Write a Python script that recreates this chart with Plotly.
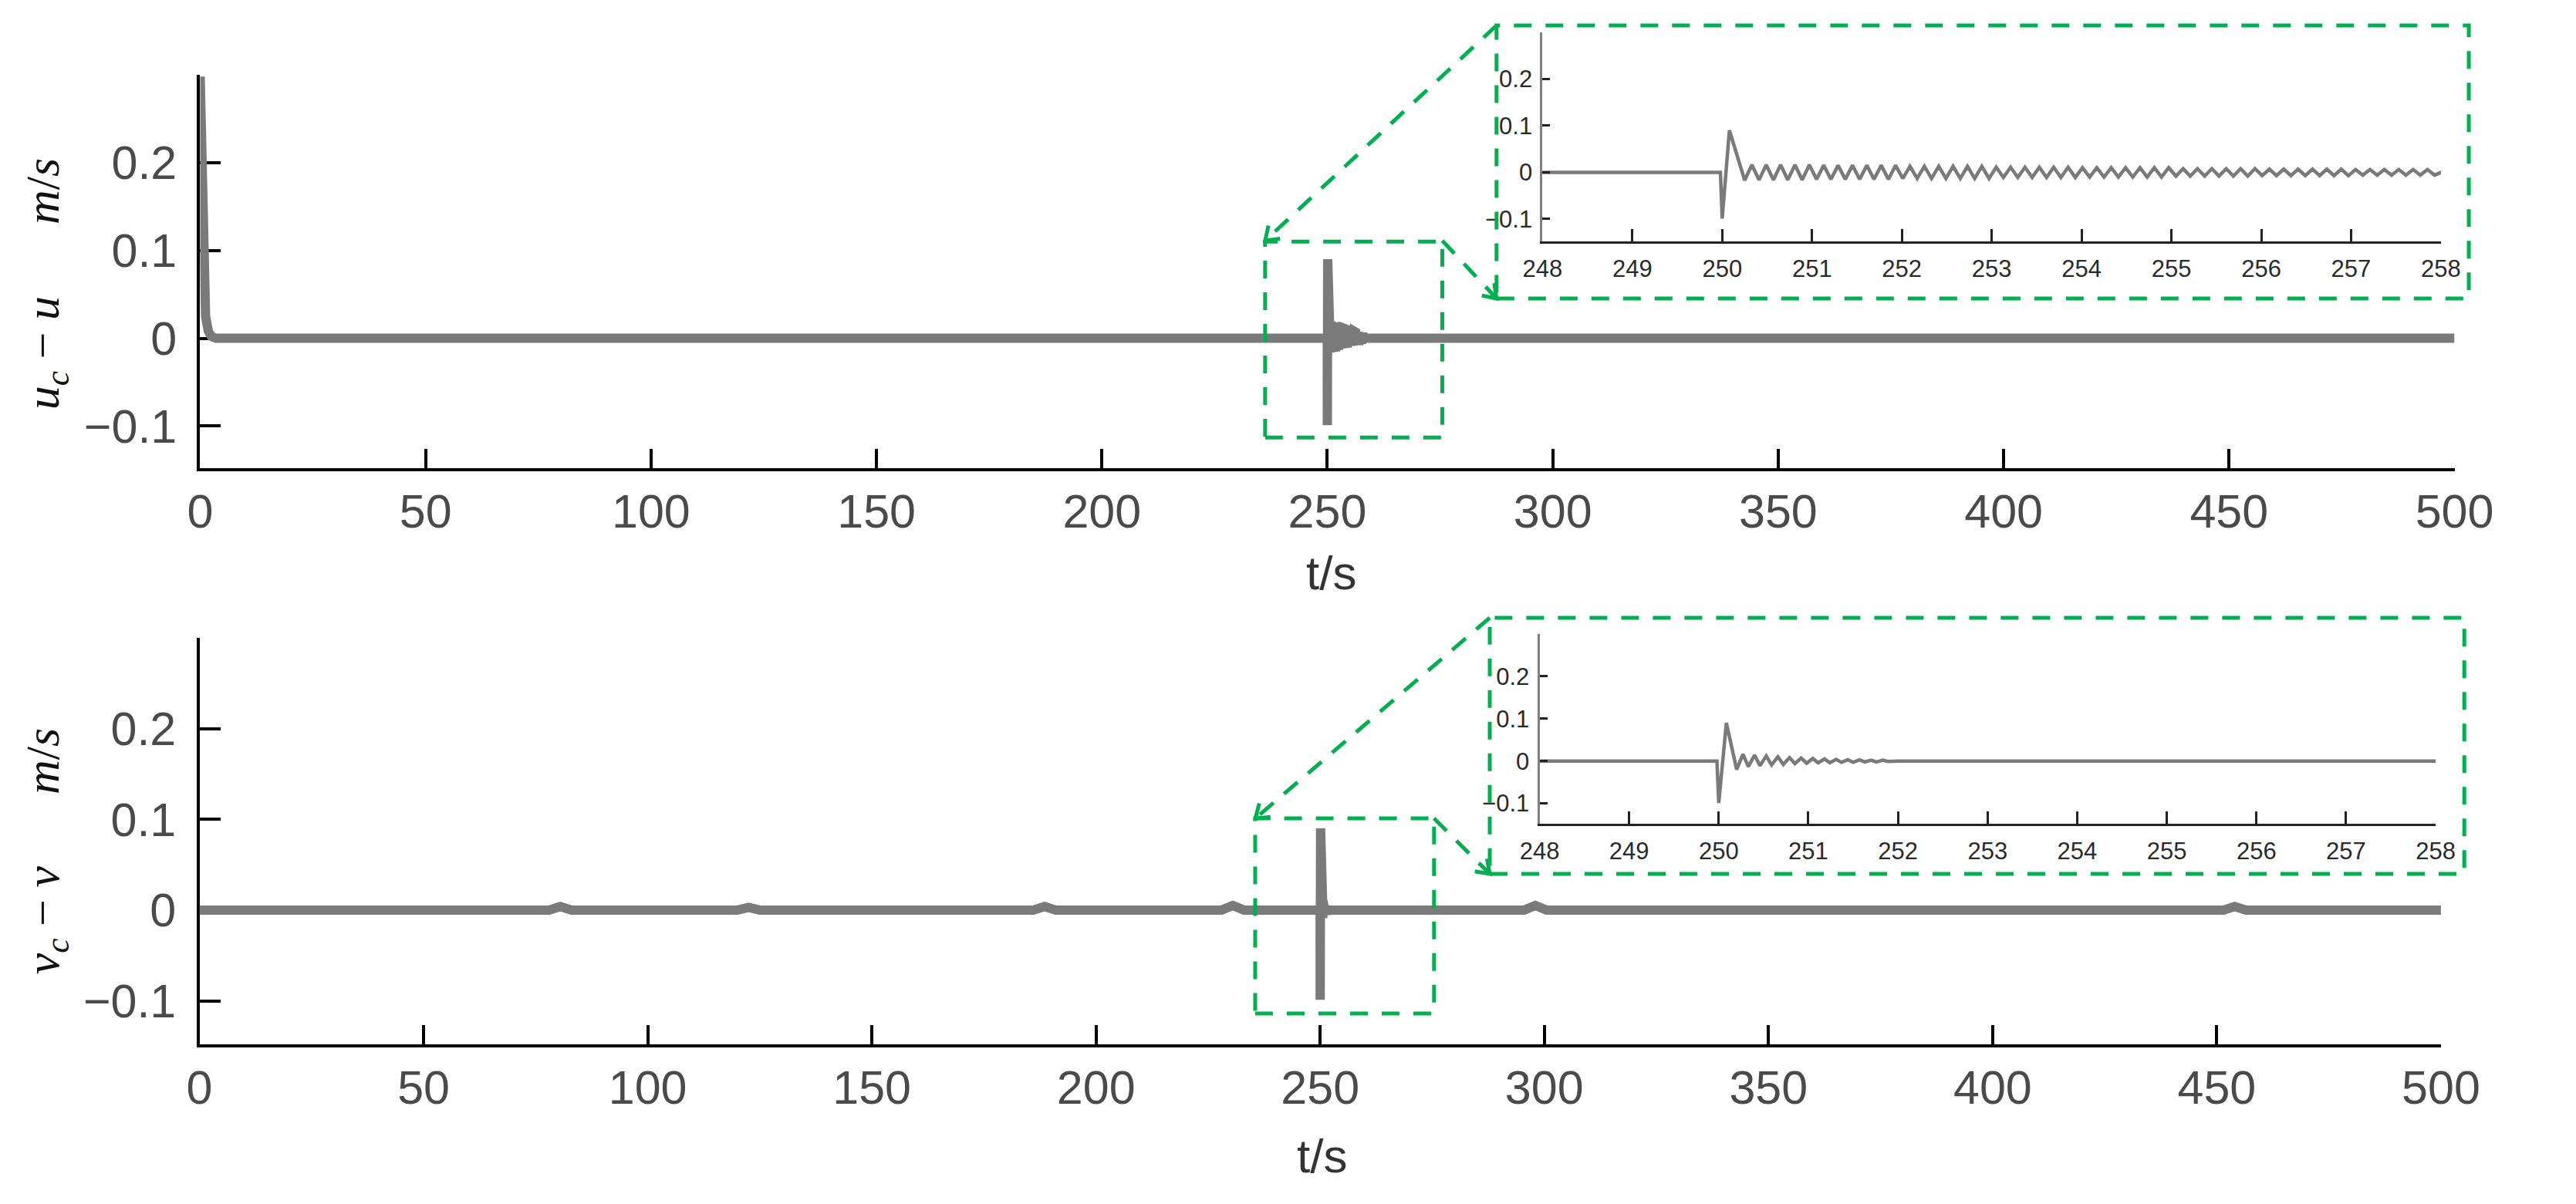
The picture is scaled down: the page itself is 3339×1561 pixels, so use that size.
import math
import plotly.graph_objects as go

W, H = 3339, 1561

# ---------------- data ----------------
# top panel: u_c - u
t_u_head = [0, 0.3, 0.5, 0.8, 1.2, 1.8, 2.5, 3.5, 50, 100, 150, 200, 249.98]
u_head = [0.298, 0.2, 0.1, 0.05, 0.025, 0.008, 0.002, 0, 0, 0, 0, 0, 0]
t_u_spike = [250.0, 250.08, 250.25]
u_spike = [-0.099, 0.09, -0.017]
t_u_osc = [250.33, 250.41, 250.49, 250.57, 250.65, 250.73, 250.81, 250.89, 250.97,
           251.05, 251.13, 251.21, 251.29, 251.37, 251.45, 251.53, 251.61, 251.69, 251.77, 251.85, 251.93,
           252.01, 252.09, 252.17, 252.25, 252.33, 252.41, 252.49, 252.57, 252.65, 252.73, 252.81, 252.89, 252.97,
           253.05, 253.13, 253.21, 253.29, 253.37, 253.45, 253.53, 253.61, 253.69, 253.77, 253.85, 253.93,
           254.01, 254.09, 254.17, 254.25, 254.33, 254.41, 254.49, 254.57, 254.65, 254.73, 254.81, 254.89, 254.97,
           255.05, 255.13, 255.21, 255.29, 255.37, 255.45, 255.53, 255.61, 255.69, 255.77, 255.85, 255.93,
           256.01, 256.09, 256.17, 256.25, 256.33, 256.41, 256.49, 256.57, 256.65, 256.73, 256.81, 256.89, 256.97,
           257.05, 257.13, 257.21, 257.29, 257.37, 257.45, 257.53, 257.61, 257.69, 257.77, 257.85, 257.93]
u_osc = [0.016, -0.016, 0.016, -0.016, 0.016, -0.016, 0.016, -0.016, 0.016,
         -0.015, 0.015, -0.015, 0.015, -0.015, 0.015, -0.015, 0.015, -0.015, 0.015, -0.015, 0.015,
         -0.013, 0.013, -0.013, 0.013, -0.013, 0.013, -0.013, 0.013, -0.013, 0.013, -0.013, 0.013, -0.013,
         0.011, -0.011, 0.011, -0.011, 0.011, -0.011, 0.011, -0.011, 0.011, -0.011, 0.011, -0.011,
         0.010, -0.010, 0.010, -0.010, 0.010, -0.010, 0.010, -0.010, 0.010, -0.010, 0.010, -0.010, 0.010,
         -0.008, 0.008, -0.008, 0.008, -0.008, 0.008, -0.008, 0.008, -0.008, 0.008, -0.008, 0.008,
         -0.007, 0.007, -0.007, 0.007, -0.007, 0.007, -0.007, 0.007, -0.007, 0.007, -0.007, 0.007, -0.007,
         0.006, -0.006, 0.006, -0.006, 0.006, -0.006, 0.006, -0.006, 0.006, -0.006, 0.006, -0.006]
t_u_tail = [258.0, 300, 350, 400, 450, 500]
u_tail = [0, 0, 0, 0, 0, 0]

# bottom panel: v_c - v
t_v_head = [0, 78, 80.5, 83, 120, 122.5, 125, 186, 188.5, 191, 228, 230.5, 233, 249.98]
v_head = [0, 0, 0.004, 0, 0, 0.003, 0, 0, 0.004, 0, 0, 0.005, 0, 0]
t_v_spike = [250.0, 250.085, 250.2]
v_spike = [-0.099, 0.09, -0.02]
t_v_osc = [250.27, 250.33, 250.40, 250.46, 250.53, 250.59, 250.66, 250.72, 250.79, 250.85,
           250.92, 250.98, 251.05, 251.11, 251.18, 251.24, 251.31, 251.37, 251.44, 251.50,
           251.57, 251.63, 251.70, 251.76, 251.83, 251.89]
v_osc = [0.016, -0.013, 0.014, -0.011, 0.012, -0.009, 0.010, -0.008, 0.008, -0.006,
         0.007, -0.005, 0.006, -0.004, 0.005, -0.004, 0.004, -0.003, 0.003, -0.003,
         0.003, -0.002, 0.002, -0.002, 0.002, -0.001]
t_v_tail = [252.0, 295.5, 298, 300.5, 451.5, 454, 456.5, 500]
v_tail = [0, 0, 0.005, 0, 0, 0.004, 0, 0]

t_u = t_u_head + t_u_spike + t_u_osc + t_u_tail
u = u_head + u_spike + u_osc + u_tail
t_v = t_v_head + t_v_spike + t_v_osc + t_v_tail
v = v_head + v_spike + v_osc + v_tail

main_xticks = [0, 50, 100, 150, 200, 250, 300, 350, 400, 450, 500]
inset_xticks = [248, 249, 250, 251, 252, 253, 254, 255, 256, 257, 258]
yticks = [-0.1, 0, 0.1, 0.2]
ytick_text = ["\u22120.1", "0", "0.1", "0.2"]
y_range = [-0.148, 0.3]

# ---------------- styling ----------------
GRAY = "#7a7a7a"
GREEN = "#00b050"
DASH = "23px,18px"
LABEL_FONT = dict(family="Liberation Sans, Arial, sans-serif", size=61, color="#4a4a4a")
INSET_FONT = dict(family="Liberation Sans Narrow, Arial Narrow, Liberation Sans, sans-serif", size=31, color="#2a2a2a")


def fx(px):
    return px / W


def fy(py):
    return 1 - py / H


fig = go.Figure()
fig.add_trace(go.Scatter(x=t_u, y=u, mode="lines", line=dict(color=GRAY, width=12), xaxis="x", yaxis="y"))
fig.add_trace(go.Scatter(x=t_v, y=v, mode="lines", line=dict(color=GRAY, width=12), xaxis="x2", yaxis="y2"))
fig.add_trace(go.Scatter(x=t_u, y=u, mode="lines", line=dict(color=GRAY, width=4.5), xaxis="x3", yaxis="y3"))
fig.add_trace(go.Scatter(x=t_v, y=v, mode="lines", line=dict(color=GRAY, width=4.5), xaxis="x4", yaxis="y4"))

main_x = dict(range=[0, 500], tickvals=main_xticks, ticks="inside", ticklen=25, tickwidth=4,
              tickcolor="black", showline=True, linecolor="black", linewidth=4, showgrid=False,
              zeroline=False, tickfont=LABEL_FONT, ticklabelstandoff=0)
main_y = dict(range=y_range, tickvals=yticks, ticktext=ytick_text, ticks="inside", ticklen=27,
              tickwidth=4, tickcolor="black", showline=True, linecolor="black", linewidth=4,
              showgrid=False, zeroline=False, tickfont=LABEL_FONT, ticklabelstandoff=14,
              layer="below traces")
inset_x = dict(range=[248, 258], tickvals=inset_xticks, ticks="inside", ticklen=16, tickwidth=3,
               tickcolor="#222", showline=True, linecolor="#222", linewidth=3, showgrid=False,
               zeroline=False, tickfont=INSET_FONT, ticklabelstandoff=6)
inset_y = dict(range=y_range, tickvals=yticks, ticktext=ytick_text, ticks="inside", ticklen=10,
               tickwidth=3, tickcolor="#222", showline=True, linecolor="#808080", linewidth=3,
               showgrid=False, zeroline=False, tickfont=INSET_FONT, ticklabelstandoff=4)

fig.update_layout(
    width=W, height=H, margin=dict(l=0, r=0, t=0, b=0),
    paper_bgcolor="white", plot_bgcolor="rgba(0,0,0,0)", showlegend=False, hovermode=False,
    xaxis=dict(main_x, domain=[fx(239), fx(3230)], anchor="y"),
    yaxis=dict(main_y, domain=[fy(607), fy(97)], anchor="x"),
    xaxis2=dict(main_x, domain=[fx(238), fx(3212)], anchor="y2"),
    yaxis2=dict(main_y, domain=[fy(1354), fy(827)], anchor="x2"),
    xaxis3=dict(inset_x, domain=[fx(2020), fx(3212)], anchor="y3"),
    yaxis3=dict(inset_y, domain=[fy(313), fy(42)], anchor="x3"),
    xaxis4=dict(inset_x, domain=[fx(2016), fx(3205)], anchor="y4"),
    yaxis4=dict(inset_y, domain=[fy(1068), fy(822)], anchor="x4"),
)

dash_line = dict(color=GREEN, width=5, dash=DASH)
shapes = []
# zoom boxes on main axes (data coordinates)
shapes.append(dict(type="rect", xref="x", yref="y", x0=236.2, x1=275.5, y0=-0.113, y1=0.11, line=dash_line))
shapes.append(dict(type="rect", xref="x2", yref="y2", x0=235.5, x1=275.4, y0=-0.114, y1=0.101, line=dash_line))
# inset frames (paper)
shapes.append(dict(type="rect", xref="paper", yref="paper", x0=fx(1959), x1=fx(3249), y0=fy(387), y1=fy(33), line=dash_line))
shapes.append(dict(type="rect", xref="paper", yref="paper", x0=fx(1950), x1=fx(3243), y0=fy(1133), y1=fy(801), line=dash_line))
# connectors: (tail px, tip px) -- arrowhead at the tip
connectors = [((1959, 33), (1652, 312)), ((1887, 312), (1959, 387)),
              ((1950, 801), (1639, 1061)), ((1876, 1061), (1950, 1133))]
for (x0, y0), (x1, y1) in connectors:
    shapes.append(dict(type="line", xref="paper", yref="paper", x0=fx(x0), y0=fy(y0), x1=fx(x1), y1=fy(y1),
                       line=dash_line))
    dx, dy = x0 - x1, y0 - y1
    L = math.hypot(dx, dy)
    ux, uy = dx / L, dy / L
    arm = 20
    pts = []
    for s in (1, -1):
        ang = s * math.radians(35)
        rx = ux * math.cos(ang) - uy * math.sin(ang)
        ry = ux * math.sin(ang) + uy * math.cos(ang)
        pts.append((x1 + arm * rx, y1 + arm * ry))
    path = "M {:.5f},{:.5f} L {:.5f},{:.5f} L {:.5f},{:.5f}".format(
        fx(pts[0][0]), fy(pts[0][1]), fx(x1), fy(y1), fx(pts[1][0]), fy(pts[1][1]))
    shapes.append(dict(type="path", xref="paper", yref="paper", path=path,
                       line=dict(color=GREEN, width=5)))
fig.update_layout(shapes=shapes)

ann = []
TITLE_FONT = dict(family="Liberation Serif, Times New Roman, serif", size=62, color="#111")
ann.append(dict(x=fx(34), y=fy(368), xref="paper", yref="paper", textangle=-90, showarrow=False,
                xanchor="center", yanchor="middle",
                text="<i>u</i><sub><i>c</i></sub> \u2212 <i>u</i>\u2003\u2002<i>m</i>/<i>s</i>", font=TITLE_FONT))
ann.append(dict(x=fx(34), y=fy(1104), xref="paper", yref="paper", textangle=-90, showarrow=False,
                xanchor="center", yanchor="middle",
                text="<i>v</i><sub><i>c</i></sub> \u2212 <i>v</i>\u2003\u2002<i>m</i>/<i>s</i>", font=TITLE_FONT))
XT_FONT = dict(family="Liberation Sans, Arial, sans-serif", size=62, color="#333")
ann.append(dict(x=fx(1740), y=fy(742), xref="paper", yref="paper", showarrow=False, text="t/s",
                xanchor="center", yanchor="middle", font=XT_FONT))
ann.append(dict(x=fx(1727), y=fy(1498), xref="paper", yref="paper", showarrow=False, text="t/s",
                xanchor="center", yanchor="middle", font=XT_FONT))
fig.update_layout(annotations=ann)

fig.write_html("out.html", include_plotlyjs=True, config={"displayModeBar": False},
               post_script="document.body.style.margin='0';document.body.style.overflow='hidden';")
